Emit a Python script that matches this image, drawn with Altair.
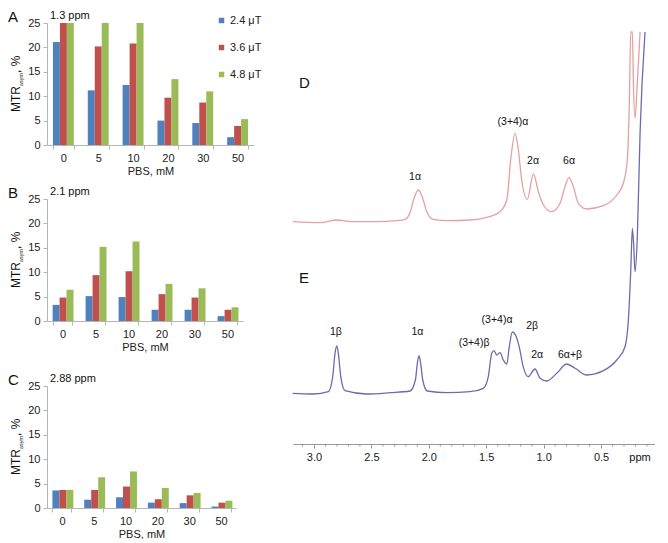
import altair as alt
import pandas as pd

FONT = "Liberation Sans"

# ---------------- bar chart data ----------------
pbs = ["0", "5", "10", "20", "30", "50"]
fields = ["2.4 μT", "3.6 μT", "4.8 μT"]
bar_colors = ["#4F81BD", "#C0504D", "#9BBB59"]

a_24 = [21.1, 11.2, 12.3, 5.0, 4.5, 1.6]
a_36 = [25.0, 20.2, 20.8, 9.7, 8.7, 3.9]
a_48 = [25.0, 25.0, 25.0, 13.5, 11.0, 5.3]

b_24 = [3.3, 5.1, 4.9, 2.3, 2.3, 1.0]
b_36 = [4.8, 9.4, 10.2, 5.5, 4.8, 2.3]
b_48 = [6.4, 15.2, 16.3, 7.6, 6.7, 2.8]

c_24 = [3.6, 1.7, 2.2, 1.1, 1.0, 0.3]
c_36 = [3.7, 3.7, 4.4, 1.8, 2.6, 1.1]
c_48 = [3.7, 6.3, 7.5, 4.1, 3.1, 1.5]

y_ticks = [0, 5, 10, 15, 20, 25]

# ---------------- NMR spectra data ----------------
d_ppm = [3.186, 2.948, 2.802, 2.658, 2.454, 2.280, 2.207, 2.164, 2.129, 2.091,
         2.053, 2.018, 1.961, 1.844, 1.641, 1.496, 1.380, 1.321, 1.287, 1.249,
         1.220, 1.191, 1.142, 1.089, 1.046, 1.002, 0.930, 0.857, 0.814, 0.779,
         0.741, 0.698, 0.625, 0.480, 0.363, 0.306, 0.271, 0.253, 0.241, 0.227,
         0.218, 0.204, 0.184, 0.160]
d_int = [222.3, 221.3, 224.0, 222.3, 222.3, 223.3, 224.7, 231.3, 245.7, 254.0,
         245.7, 232.3, 224.7, 223.3, 224.0, 226.7, 232.3, 244.0, 284.0, 310.7,
         294.0, 264.0, 244.7, 270.0, 252.3, 239.0, 232.3, 240.7, 257.3, 266.3,
         257.3, 240.7, 235.0, 238.3, 249.0, 260.7, 284.0, 344.0, 412.0, 412.0,
         360.7, 325.7, 360.7, 412.0]

e_ppm = [3.186, 3.006, 2.875, 2.837, 2.817, 2.802, 2.788, 2.767, 2.730, 2.541,
         2.338, 2.164, 2.117, 2.100, 2.085, 2.071, 2.053, 2.013, 1.844, 1.641,
         1.525, 1.482, 1.452, 1.432, 1.409, 1.380, 1.351, 1.321, 1.299, 1.273,
         1.245, 1.213, 1.178, 1.135, 1.075, 1.031, 0.973, 0.886, 0.799, 0.726,
         0.625, 0.480, 0.363, 0.291, 0.262, 0.241, 0.227, 0.215, 0.204, 0.184,
         0.160, 0.117]
e_int = [50.7, 50.0, 52.3, 67.3, 90.7, 98.0, 90.7, 67.3, 53.3, 50.0,
         51.3, 53.0, 64.0, 80.7, 88.3, 80.7, 64.0, 53.0, 51.3, 52.3,
         55.7, 67.3, 90.7, 93.3, 89.0, 91.3, 84.0, 80.0, 97.3, 112.0,
         109.0, 97.3, 77.3, 67.3, 75.0, 65.7, 63.0, 70.7, 80.0, 75.7,
         69.0, 73.3, 84.0, 97.3, 124.0, 174.0, 215.7, 197.3, 172.3, 207.3,
         311.0, 412.0]

peak_labels = ["D", "1α", "(3+4)α", "2α", "6α",
               "E", "1β", "1α", "(3+4)β", "(3+4)α", "2β", "2α", "6α+β"]
peak_ppm = [3.13, 2.12, 1.267, 1.092, 0.779,
            3.13, 2.81, 2.10, 1.606, 1.406, 1.10, 1.057, 0.77]
peak_int = [361, 267, 322, 283, 283,
            166, 112, 112, 101, 124, 118, 89, 89]
peak_size = [15, 10.5, 10.5, 10.5, 10.5,
             15, 10.5, 10.5, 10.5, 10.5, 10.5, 10.5, 10.5]

major_ticks = [0.5, 1.0, 1.5, 2.0, 2.5, 3.0]
minor_ticks = [0.1, 0.2, 0.3, 0.4, 0.6, 0.7, 0.8, 0.9, 1.1, 1.2, 1.3, 1.4,
               1.6, 1.7, 1.8, 1.9, 2.1, 2.2, 2.3, 2.4, 2.6, 2.7, 2.8, 2.9, 3.1]

PLOT_H = 122
SPEC_H = 421


def text_piece(txt, x, y, size, angle=0, align="left", baseline="alphabetic"):
    kw = dict(align=align, baseline=baseline, fontSize=size, font=FONT, color="#111")
    if angle:
        kw["angle"] = angle
    return alt.Chart(pd.DataFrame({"t": [txt]})).mark_text(**kw).encode(
        text="t:N", x=alt.value(x), y=alt.value(y)
    )


def bar_panel(letter, title, s1, s2, s3, width, show_legend):
    rows = []
    for vals, f in zip([s1, s2, s3], fields):
        for p, v in zip(pbs, vals):
            rows.append({"pbs": p, "field": f, "value": v})
    df = pd.DataFrame(rows)
    if show_legend:
        legend = alt.Legend(orient="none", legendX=169, legendY=-8, title=None,
                            symbolType="square", symbolSize=30, symbolStrokeWidth=0,
                            labelFontSize=11, labelFont=FONT, labelColor="#222",
                            rowPadding=15, labelOffset=3, padding=0)
    else:
        legend = None
    bars = alt.Chart(df).mark_bar().encode(
        x=alt.X("pbs:N", sort=pbs,
                scale=alt.Scale(paddingInner=0.4, paddingOuter=0.17),
                axis=alt.Axis(title="PBS, mM", labelAngle=0, tickBand="extent",
                              labelFontSize=11, titleFontSize=11, tickSize=4,
                              labelPadding=3, titlePadding=2)),
        xOffset=alt.XOffset("field:N", sort=fields,
                            scale=alt.Scale(paddingInner=0, paddingOuter=0)),
        y=alt.Y("value:Q", scale=alt.Scale(domain=[0, 25], nice=False),
                axis=alt.Axis(values=y_ticks, title=None, grid=False,
                              labelFontSize=11, tickSize=4, labelPadding=3)),
        color=alt.Color("field:N", sort=fields,
                        scale=alt.Scale(domain=fields, range=bar_colors),
                        legend=legend),
    )
    mid = PLOT_H / 2
    layers = [
        bars,
        text_piece(letter, -39, -1, 15),
        text_piece(title, 3, -4, 11),
        text_piece("MTR", -27, mid + 28, 12, angle=270),
        text_piece("asym", -24, mid + 2, 5.5, angle=270),
        text_piece(", %", -27, mid - 11, 12, angle=270),
    ]
    return alt.layer(*layers).properties(width=width, height=PLOT_H)


chart_a = bar_panel("A", "1.3 ppm", a_24, a_36, a_48, 207, True)
chart_b = bar_panel("B", "2.1 ppm", b_24, b_36, b_48, 196, False)
chart_c = bar_panel("C", "2.88 ppm", c_24, c_36, c_48, 189, False)

top_pair = alt.vconcat(chart_a, chart_b, spacing=10).resolve_scale(
    color="independent", x="independent", y="independent")
left = alt.vconcat(top_pair, chart_c, spacing=21).resolve_scale(
    color="independent", x="independent", y="independent")

# ---------------- spectra ----------------
rows = []
for i, (p, v) in enumerate(zip(d_ppm, d_int)):
    rows.append({"ppm": p, "v": v, "s": "D", "i": i})
for i, (p, v) in enumerate(zip(e_ppm, e_int)):
    rows.append({"ppm": p, "v": v, "s": "E", "i": i})
spec_df = pd.DataFrame(rows)

xscale = alt.Scale(domain=[3.183, 0.03], nice=False, zero=False)
yscale = alt.Scale(domain=[0, SPEC_H], nice=False, zero=False)

spec_axis = alt.Axis(
    values=major_ticks, title=None, grid=False, format=".1f",
    labelFontSize=11, labelPadding=3, labelFlush=False, labelOverlap=False,
    tickSize=4, domainColor="#999", tickColor="#999",
)

lines = alt.Chart(spec_df).mark_line(strokeWidth=1.3, interpolate="monotone").encode(
    x=alt.X("ppm:Q", scale=xscale, axis=spec_axis),
    y=alt.Y("v:Q", scale=yscale, axis=None),
    color=alt.Color("s:N", scale=alt.Scale(domain=["D", "E"], range=["#E5A0A0", "#6B6BAF"]),
                    legend=None),
    order="i:Q",
)

minor = alt.Chart(pd.DataFrame({"ppm": minor_ticks})).mark_rule(
    color="#999", strokeWidth=1
).encode(x=alt.X("ppm:Q", scale=xscale), y=alt.value(SPEC_H), y2=alt.value(SPEC_H + 2.5))

lab_df = pd.DataFrame({"label": peak_labels, "ppm": peak_ppm, "v": peak_int, "size": peak_size})
labels_big = alt.Chart(lab_df).transform_filter("datum.size > 12").mark_text(
    font=FONT, fontSize=15, align="left", baseline="middle", color="#111"
).encode(x=alt.X("ppm:Q", scale=xscale), y=alt.Y("v:Q", scale=yscale), text="label:N")
labels_small = alt.Chart(lab_df).transform_filter("datum.size < 12").mark_text(
    font=FONT, fontSize=10.5, align="center", baseline="middle", color="#111"
).encode(x=alt.X("ppm:Q", scale=xscale), y=alt.Y("v:Q", scale=yscale), text="label:N")

ppm_text = text_piece("ppm", 347, SPEC_H + 14, 11, align="center", baseline="middle")

spectrum = alt.layer(lines, minor, labels_big, labels_small, ppm_text).properties(
    width=362, height=SPEC_H)

chart = alt.hconcat(left, spectrum, spacing=28).resolve_scale(
    color="independent", x="independent", y="independent"
).properties(padding={"top": 2, "left": 0, "right": 0, "bottom": 0}).configure_view(
    stroke=None
).configure_axis(
    labelFont=FONT, titleFont=FONT, labelColor="#222", titleColor="#222",
    titleFontWeight="normal", domainColor="#b5b5b5", tickColor="#b5b5b5",
).configure_text(font=FONT)

chart.save("out.html", embed_options={"renderer": "svg", "actions": False})
